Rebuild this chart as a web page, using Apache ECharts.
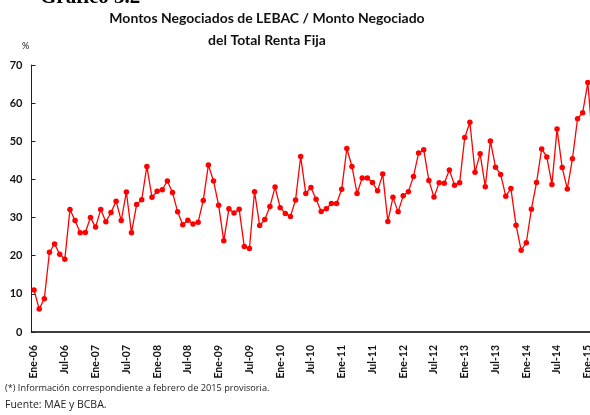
<!DOCTYPE html>
<html>
<head>
<meta charset="utf-8">
<script src="https://cdn.jsdelivr.net/npm/echarts@6/dist/echarts.min.js"></script>
<style>
html,body{margin:0;padding:0;background:#fff;width:590px;height:415px;overflow:hidden;}
#c{width:600px;height:415px;}
</style>
</head>
<body>
<div id="c"></div>
<script>
const monthNames = ['Ene','Feb','Mar','Abr','May','Jun','Jul','Ago','Sep','Oct','Nov','Dic'];
const startYear = 2006;
const nMonths = 110; // Ene-06 .. Feb-15
const categories = [];
for (let i = 0; i < nMonths; i++) {
  const y = startYear + Math.floor(i / 12);
  categories.push(monthNames[i % 12] + '-' + String(y % 100).padStart(2, '0'));
}
const values = [
  11.0, 6.0, 8.7, 20.9, 23.1, 20.4, 19.1, 32.1, 29.2, 26.0, 26.1, 30.0,
  27.5, 32.1, 28.9, 31.3, 34.3, 29.2, 36.7, 26.0, 33.4, 34.7, 43.4, 35.3,
  36.9, 37.3, 39.6, 36.6, 31.5, 28.1, 29.3, 28.3, 28.8, 34.5, 43.8, 39.6,
  33.2, 23.9, 32.3, 31.2, 32.2, 22.4, 21.9, 36.8, 27.9, 29.5, 32.9, 38.0,
  32.6, 31.1, 30.3, 34.6, 46.0, 36.3, 37.9, 34.8, 31.6, 32.3, 33.7, 33.7,
  37.4, 48.1, 43.4, 36.3, 40.4, 40.4, 39.2, 37.0, 41.4, 29.0, 35.3, 31.5,
  35.7, 36.8, 40.8, 46.9, 47.8, 39.7, 35.4, 39.1, 39.0, 42.5, 38.5, 39.1,
  51.0, 55.0, 41.9, 46.7, 38.1, 50.1, 43.2, 41.3, 35.6, 37.6, 28.0, 21.4,
  23.4, 32.2, 39.2, 48.0, 45.9, 38.7, 53.2, 43.1, 37.5, 45.4, 55.9, 57.5,
  65.4, 49.0
];
const titleLines = ['Montos Negociados de LEBAC / Monto Negociado', 'del Total Renta Fija'];
const footnote = '(*) Información correspondiente a febrero de 2015 provisoria.';
const source = 'Fuente: MAE y BCBA.';
const yUnit = '%';

const chart = echarts.init(document.getElementById('c'), null, {renderer: 'canvas'});
chart.setOption({
  animation: false,
  backgroundColor: '#ffffff',
  textStyle: {fontFamily: 'Lato'},
  graphic: [
    {type: 'text', left: 40, top: -13, style: {text: 'Gráfico 3.2', font: 'bold 21px "Liberation Serif"', fill: '#000'}},
    {type: 'text', x: 267, y: 11, style: {text: titleLines[0], font: 'bold 14px Lato', fill: '#111', align: 'center'}},
    {type: 'text', x: 267, y: 33, style: {text: titleLines[1], font: 'bold 14px Lato', fill: '#111', align: 'center'}},
    {type: 'text', left: 22, top: 42, style: {text: yUnit, font: '9px Lato', fill: '#111'}},
    {type: 'text', left: 5, top: 384, style: {text: footnote, font: '9.2px "Open Sans"', fill: '#222'}},
    {type: 'text', left: 5, top: 400, style: {text: source, font: '10.5px "Open Sans"', fill: '#222'}}
  ],
  grid: {left: 31.5, right: 4.5, top: 65, bottom: 83, containLabel: false},
  xAxis: {
    type: 'category',
    data: categories,
    boundaryGap: true,
    axisLine: {lineStyle: {color: '#000', width: 1.5}},
    axisTick: {show: false},
    axisLabel: {
      interval: 5,
      rotate: 90,
      color: '#111',
      fontFamily: 'Lato',
      fontWeight: 'bold',
      fontSize: 10.5,
      margin: 13
    },
    splitLine: {show: false}
  },
  yAxis: {
    type: 'value',
    min: 0, max: 70, interval: 10,
    axisLine: {show: true, lineStyle: {color: '#222', width: 1}},
    axisTick: {show: true, inside: true, length: 4, lineStyle: {color: '#222'}},
    axisLabel: {color: '#111', fontFamily: 'Lato', fontWeight: 'bold', fontSize: 11, margin: 9},
    splitLine: {show: false}
  },
  series: [{
    type: 'line',
    data: values,
    symbol: 'circle',
    symbolSize: 5.5,
    showAllSymbol: true,
    itemStyle: {color: '#ff0000'},
    lineStyle: {color: '#ff0000', width: 1.3}
  }]
});
</script>
</body>
</html>
